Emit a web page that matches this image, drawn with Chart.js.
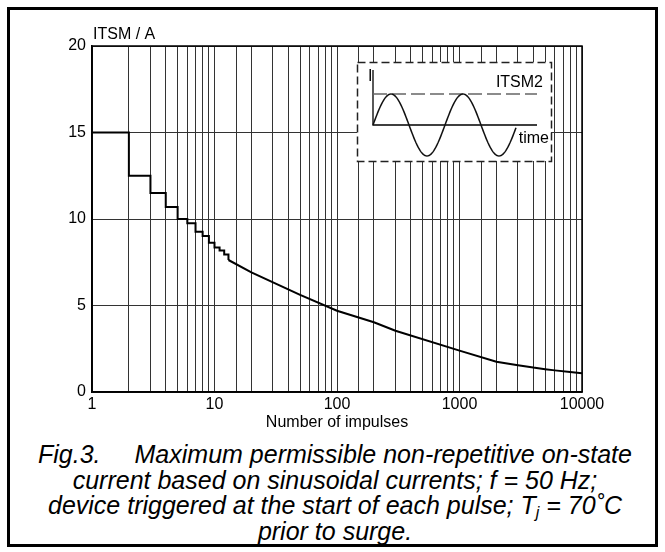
<!DOCTYPE html>
<html><head><meta charset="utf-8">
<script src="https://cdn.jsdelivr.net/npm/chart.js@4.4.1/dist/chart.umd.min.js"></script>
<style>
html,body{margin:0;padding:0;background:#fff;}
#wrap{position:relative;width:665px;height:552px;overflow:hidden;}
#frame{position:absolute;left:7px;top:7px;width:645px;height:534px;border:3px solid #000;}
#c{position:absolute;left:0;top:0;}
#cap{position:absolute;left:0;width:670px;top:442px;text-align:center;font-family:"Liberation Sans",Arial,sans-serif;font-style:italic;font-size:25px;line-height:25.5px;color:#000;white-space:nowrap;}
#cap sub{font-size:16px;vertical-align:-4px;line-height:0;}
#cap .gap{display:inline-block;width:34px;}
</style></head><body>
<div id="wrap">
<div id="frame"></div>
<canvas id="c" width="665" height="440"></canvas>
<div id="cap">Fig.3.<span class="gap"></span>Maximum permissible non-repetitive on-state<br>current based on sinusoidal currents; f = 50 Hz;<br>device triggered at the start of each pulse; T<sub>j</sub> = 70˚C<br>prior to surge.</div>
</div>
<script>
// ---- data ----
const IMPULSES_STEP = [1, 2, 3, 4, 5, 6, 7, 8, 9, 10, 11, 12, 13];
const ITSM_STEP     = [15, 12.5, 11.5, 10.7, 10.0, 9.75, 9.27, 9.02, 8.63, 8.35, 8.18, 7.95, 7.63];
const IMPULSES_CURVE = [13, 20, 50, 100, 200, 300, 1000, 2000, 3000, 4000, 5000, 6000, 8000, 10000];
const ITSM_CURVE     = [7.63, 6.92, 5.61, 4.70, 4.03, 3.54, 2.39, 1.75, 1.55, 1.41, 1.32, 1.25, 1.15, 1.08];
const X_TICK_VALUES = [1, 10, 100, 1000, 10000];
const X_TICK_LABELS = ['1', '10', '100', '1000', '10000'];
const Y_TICK_VALUES = [0, 5, 10, 15, 20];
const Y_TITLE = 'ITSM / A';
const X_TITLE = 'Number of impulses';

const FONT = '"Liberation Sans", Arial, sans-serif';

const framePlugin = {
  id: 'frame',
  beforeDatasetsDraw(chart) {
    const a = chart.chartArea, ctx = chart.ctx;
    ctx.save();
    ctx.strokeStyle = '#000';
    ctx.lineWidth = 1.5;
    ctx.strokeRect(a.left, a.top, a.right - a.left, a.bottom - a.top);
    ctx.restore();
  },
  afterDraw(chart) {
    const a = chart.chartArea, ctx = chart.ctx;
    ctx.save();
    ctx.fillStyle = '#000';
    ctx.font = '16px ' + FONT;
    ctx.textBaseline = 'middle';
    ctx.textAlign = 'left';
    ctx.fillText(Y_TITLE, a.left + 1, a.top - 11);
    ctx.restore();
  }
};

// schematic inset (illustration of the current waveform)
const insetPlugin = {
  id: 'inset',
  afterDraw(chart) {
    const a = chart.chartArea, ctx = chart.ctx;
    const L = a.left + 265, T = a.top + 16, W = 194, H = 99;
    ctx.save();
    ctx.fillStyle = '#fff';
    ctx.fillRect(L, T, W, H);
    ctx.strokeStyle = '#222';
    ctx.lineWidth = 1.5;
    ctx.setLineDash([8, 4]);
    ctx.strokeRect(L + 0.5, T + 0.5, W, H);
    const ox = L + 16, oy = T + 63;
    ctx.setLineDash([]);
    ctx.lineWidth = 1.3;
    ctx.strokeStyle = '#000';
    ctx.beginPath();
    ctx.moveTo(ox, T + 8); ctx.lineTo(ox, oy);
    ctx.lineTo(L + 180, oy);
    ctx.stroke();
    const amp = 31, per = 72;
    ctx.strokeStyle = '#666';
    ctx.lineWidth = 1.3;
    ctx.setLineDash([14, 5]);
    ctx.beginPath();
    ctx.moveTo(ox, oy - amp); ctx.lineTo(L + 180, oy - amp);
    ctx.stroke();
    ctx.setLineDash([]);
    ctx.strokeStyle = '#111';
    ctx.lineWidth = 1.5;
    ctx.beginPath();
    for (let t = 0; t <= 143; t += 1) {
      const px = ox + t, py = oy - amp * Math.sin(2 * Math.PI * t / per);
      if (t === 0) ctx.moveTo(px, py); else ctx.lineTo(px, py);
    }
    ctx.stroke();
    ctx.fillStyle = '#000';
    ctx.font = '16px ' + FONT;
    ctx.textBaseline = 'middle';
    ctx.textAlign = 'left';
    ctx.fillText('I', L + 11, T + 15);
    ctx.textAlign = 'right';
    ctx.fillText('ITSM2', L + 186, T + 21);
    ctx.fillText('time', L + 192, T + 77);
    ctx.restore();
  }
};

new Chart(document.getElementById('c').getContext('2d'), {
  type: 'line',
  data: {
    datasets: [
      {
        data: IMPULSES_STEP.map((x, i) => ({x, y: ITSM_STEP[i]})),
        stepped: 'before',
        borderColor: '#000', borderWidth: 2, pointRadius: 0, fill: false
      },
      {
        data: IMPULSES_CURVE.map((x, i) => ({x, y: ITSM_CURVE[i]})),
        borderColor: '#000', borderWidth: 2, pointRadius: 0, tension: 0, fill: false
      }
    ]
  },
  options: {
    responsive: false,
    animation: false,
    events: [],
    layout: {padding: {left: 0, top: 46, right: 83, bottom: 0}},
    plugins: {legend: {display: false}, tooltip: {enabled: false}},
    scales: {
      x: {
        type: 'logarithmic', min: 1, max: 10000,
        afterFit(s) { s.height = 48; s.paddingLeft = 0; s.paddingRight = 0; },
        ticks: {
          autoSkip: false, maxRotation: 0, minRotation: 0, padding: 3, color: '#000',
          font: {family: FONT, size: 16},
          callback(v) { const i = X_TICK_VALUES.findIndex(t => Math.abs(t - v) < 1e-6); return i >= 0 ? X_TICK_LABELS[i] : ''; }
        },
        grid: {color: '#333', lineWidth: 1, drawTicks: false},
        border: {display: true, color: '#000', width: 1.5},
        title: {display: true, text: X_TITLE, color: '#000', font: {family: FONT, size: 16}, padding: {top: 0, bottom: 8}}
      },
      y: {
        type: 'linear', min: 0, max: 20,
        afterFit(s) { s.width = 92; },
        afterBuildTicks(s) { s.ticks = Y_TICK_VALUES.map(v => ({value: v})); },
        ticks: {padding: 6, color: '#000', font: {family: FONT, size: 16}},
        grid: {color: '#333', lineWidth: 1, drawTicks: false},
        border: {display: true, color: '#000', width: 1.5}
      }
    }
  },
  plugins: [framePlugin, insetPlugin]
});
</script>
</body></html>
